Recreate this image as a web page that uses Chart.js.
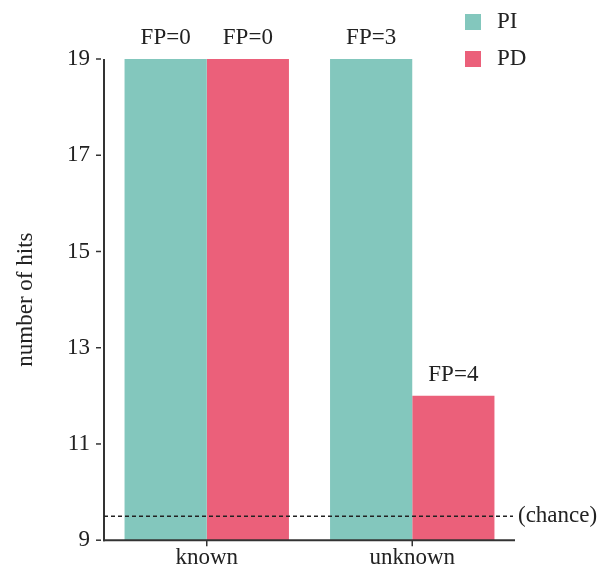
<!DOCTYPE html>
<html>
<head>
<meta charset="utf-8">
<script src="https://cdn.jsdelivr.net/npm/chart.js@4.4.1/dist/chart.umd.min.js"></script>
<style>
  html, body { margin: 0; padding: 0; background: #fff; }
  #wrap { width: 602px; height: 568px; }
</style>
</head>
<body>
<div id="wrap"><canvas id="hitsChart" width="602" height="568"></canvas></div>
<script>
// Datos del gráfico
const categories = ['known', 'unknown'];
const seriesNames = ['PI', 'PD'];
const hitsPI = [19, 19];
const hitsPD = [19, 12];
const fpPI = [0, 3];
const fpPD = [0, 4];
const yTicks = [9, 11, 13, 15, 17, 19];
const chanceLevel = 9.5;
const chanceLabel = '(chance)';
const yTitle = 'number of hits';

const colorPI = '#83C7BD';
const colorPD = '#EB607A';
const ink = '#222';
const axisInk = '#333';
const serif = '"Liberation Serif", "DejaVu Serif", serif';
const fontSize = 23;

// Ejes dibujados a mano (marcas separadas del eje, como en el original)
const axesPlugin = {
    id: 'axes',
    afterDatasetsDraw(chart) {
        const { ctx, chartArea, scales } = chart;
        const x = scales.x, y = scales.y;
        ctx.save();
        ctx.strokeStyle = axisInk;
        ctx.lineWidth = 2;
        // eje y
        ctx.beginPath();
        ctx.moveTo(chartArea.left, y.getPixelForValue(19));
        ctx.lineTo(chartArea.left, chartArea.bottom + 1);
        ctx.stroke();
        // eje x
        ctx.beginPath();
        ctx.moveTo(chartArea.left - 1, chartArea.bottom);
        ctx.lineTo(chartArea.right, chartArea.bottom);
        ctx.stroke();
        // marcas del eje y
        ctx.lineWidth = 1.5;
        yTicks.forEach(v => {
            const py = y.getPixelForValue(v);
            ctx.beginPath();
            ctx.moveTo(chartArea.left - 8, py);
            ctx.lineTo(chartArea.left - 3, py);
            ctx.stroke();
        });
        // marcas del eje x
        categories.forEach((c, i) => {
            const px = x.getPixelForValue(i);
            ctx.beginPath();
            ctx.moveTo(px, chartArea.bottom);
            ctx.lineTo(px, chartArea.bottom + 6);
            ctx.stroke();
        });
        // línea de azar
        const cy = y.getPixelForValue(chanceLevel);
        ctx.strokeStyle = ink;
        ctx.lineWidth = 1.5;
        ctx.setLineDash([4, 3]);
        ctx.beginPath();
        ctx.moveTo(chartArea.left, cy);
        ctx.lineTo(chartArea.right - 2, cy);
        ctx.stroke();
        ctx.setLineDash([]);
        ctx.fillStyle = ink;
        ctx.font = fontSize + 'px ' + serif;
        ctx.textAlign = 'left';
        ctx.textBaseline = 'middle';
        ctx.fillText(chanceLabel, chartArea.right + 3, cy);
        ctx.restore();
    }
};

// Etiquetas FP sobre cada barra
const fpPlugin = {
    id: 'fpLabels',
    afterDatasetsDraw(chart) {
        const { ctx } = chart;
        const fps = [fpPI, fpPD];
        ctx.save();
        ctx.fillStyle = ink;
        ctx.font = fontSize + 'px ' + serif;
        ctx.textAlign = 'center';
        ctx.textBaseline = 'alphabetic';
        chart.data.datasets.forEach((ds, di) => {
            chart.getDatasetMeta(di).data.forEach((bar, i) => {
                ctx.fillText('FP=' + fps[di][i], bar.x, bar.y - 15);
            });
        });
        ctx.restore();
    }
};

// Leyenda en la esquina superior derecha
const legendPlugin = {
    id: 'sideLegend',
    afterDraw(chart) {
        const { ctx } = chart;
        ctx.save();
        ctx.font = fontSize + 'px ' + serif;
        ctx.textAlign = 'left';
        ctx.textBaseline = 'middle';
        chart.data.datasets.forEach((ds, i) => {
            const cy = 22 + i * 37;
            ctx.fillStyle = ds.backgroundColor;
            ctx.fillRect(465, cy - 8, 16, 16);
            ctx.fillStyle = ink;
            ctx.fillText(ds.label, 497, cy);
        });
        ctx.restore();
    }
};

const ctx = document.getElementById('hitsChart').getContext('2d');
const hitsChart = new Chart(ctx, {
    type: 'bar',
    data: {
        labels: categories,
        datasets: [
            { label: seriesNames[0], data: hitsPI, backgroundColor: colorPI, borderWidth: 0 },
            { label: seriesNames[1], data: hitsPD, backgroundColor: colorPD, borderWidth: 0 }
        ]
    },
    options: {
        responsive: false,
        animation: false,
        devicePixelRatio: 1,
        layout: { padding: { left: 0, right: 87, top: 59, bottom: 0 } },
        plugins: {
            legend: { display: false },
            tooltip: { enabled: false }
        },
        datasets: {
            bar: { categoryPercentage: 0.8, barPercentage: 1.0 }
        },
        scales: {
            x: {
                grid: { display: false, drawTicks: false },
                border: { display: false },
                ticks: {
                    color: ink,
                    font: { family: serif, size: fontSize },
                    padding: 4
                },
                afterFit(scale) { scale.height = 27; }
            },
            y: {
                min: 9,
                max: 19,
                grid: { display: false, drawTicks: false },
                border: { display: false },
                afterBuildTicks(scale) {
                    scale.ticks = yTicks.map(v => ({ value: v }));
                },
                ticks: {
                    color: ink,
                    font: { family: serif, size: fontSize },
                    padding: 14
                },
                title: {
                    display: true,
                    text: yTitle,
                    color: ink,
                    font: { family: serif, size: fontSize },
                    padding: { top: 12, bottom: 0 }
                },
                afterFit(scale) { scale.width = 104; }
            }
        }
    },
    plugins: [axesPlugin, fpPlugin, legendPlugin]
});
</script>
</body>
</html>
